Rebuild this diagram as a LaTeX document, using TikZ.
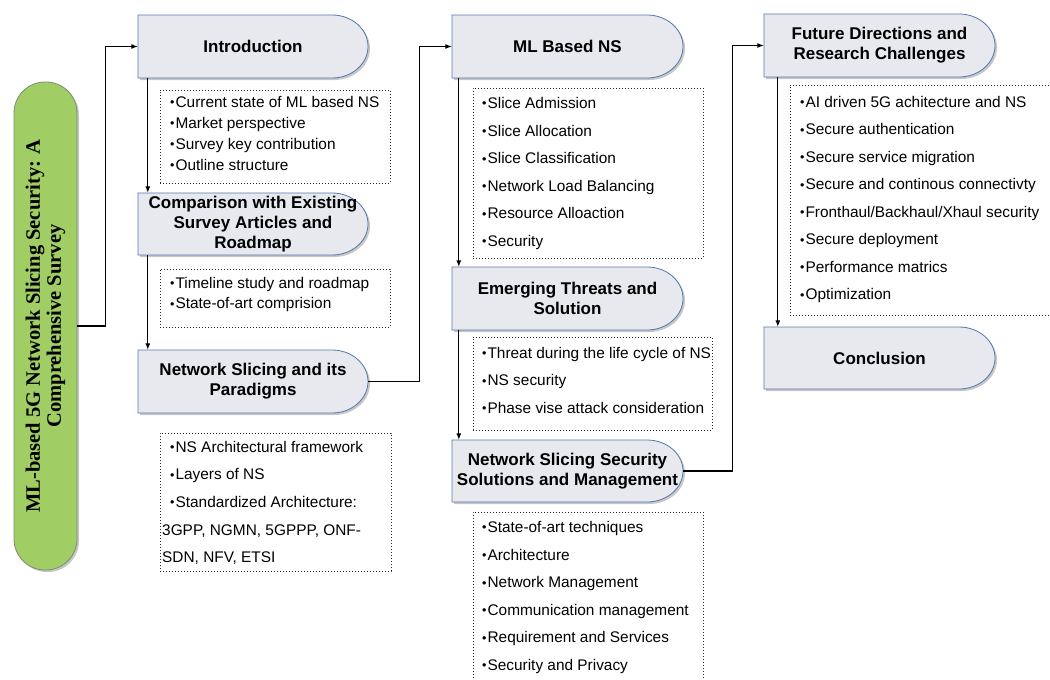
\documentclass[tikz,border=0pt]{standalone}
\usepackage{fontspec}
\setmainfont{Liberation Sans}
\newfontfamily\titleserif{Liberation Serif}
\usetikzlibrary{arrows.meta}

\definecolor{boxfill}{HTML}{E7E9EF}
\definecolor{boxline}{HTML}{5479AE}
\definecolor{greenfill}{HTML}{A0CD64}
\definecolor{greenline}{HTML}{7F8C74}

\tikzset{
  sec/.style={inner sep=0pt, align=center, font=\bfseries\fontsize{17}{20}\selectfont},
  listbox/.style={draw=black!85, dash pattern=on 1pt off 2pt, line width=0.8pt, inner sep=0pt},
  item/.style={anchor=base west, inner sep=0pt, font=\fontsize{15.4}{18}\selectfont},
  conn/.style={line width=1.1pt, -{Latex[length=6.5pt,width=5pt]}},
}

\newcommand\bul{{\fontsize{12.5}{12}\selectfont\raisebox{0.6pt}{•}}\hspace{1pt}}

% section box: name, x1, y1, x2, y2, title
\newcommand\secbox[6]{%
  \fill[black!22] (#2+2,#3+2) -- (#4-34,#3+2)
    arc[start angle=-90,end angle=90,x radius=36,y radius={(#5-#3)/2}] -- (#2+2,#5+2) -- cycle;
  \draw[boxline, fill=boxfill, line width=0.8pt] (#2,#3) -- (#4-36,#3)
    arc[start angle=-90,end angle=90,x radius=36,y radius={(#5-#3)/2}] -- (#2,#5) -- cycle;
  \node[sec, minimum width={(#4-#2)*1pt}, minimum height={(#5-#3)*1pt}]
    (#1) at ({(#2+#4)/2},{(#3+#5)/2}) {#6};
}

% dotted list frame: name, x1, y1, x2, y2
\newcommand\listframe[5]{%
  \node[listbox, minimum width={(#4-#2)*1pt}, minimum height={(#5-#3)*1pt}]
    (#1) at ({(#2+#4)/2},{(#3+#5)/2}) {};
}

% bulleted items: prefix, x, first centre line, spacing, items
\newcommand\itemlist[5]{%
  \foreach \t [count=\i] in {#5} {
    \node[item] (#1-\i) at (#2,{#3+(\i-1)*#4+5.4}) {\bul\t};
  }
}

\begin{document}
\begin{tikzpicture}[x=1pt,y=-1pt]
\useasboundingbox (0,0) rectangle (1050,680);
\clip (0,0) rectangle (1050,680);

% title bar on the left
\node[fill=black!22, rounded corners=31pt, minimum width=63pt, minimum height=488pt, inner sep=0pt]
  (greenshadow) at (47.5,328) {};
\node[draw=greenline, fill=greenfill, line width=0.8pt, rounded corners=31pt,
  minimum width=63pt, minimum height=488pt, inner sep=0pt] (green) at (45.5,326) {};
\node[rotate=90, align=center, inner sep=0pt,
  font=\titleserif\bfseries\fontsize{20.5}{21}\selectfont] (greentext) at (45.5,326)
  {ML-based 5G Network Slicing Security: A\\Comprehensive Survey};

% first column
\secbox{intro}{138}{15}{368}{78}{Introduction}
\secbox{comp}{138}{193}{368}{255}{Comparison with Existing\\Survey Articles and\\Roadmap}
\secbox{nsp}{138}{350}{368}{413}{Network Slicing and its\\Paradigms}

\listframe{introlist}{160}{90}{390}{183}
\itemlist{intro}{170}{102}{21}{Current state of ML based NS, Market perspective, Survey key contribution, Outline structure}

\listframe{complist}{160}{269}{390}{327}
\itemlist{comp}{170}{283}{20.5}{Timeline study and roadmap, State-of-art comprision}

\listframe{nsplist}{160}{433}{391}{571}
\itemlist{nsp}{170}{447}{27.5}{NS Architectural framework, Layers of NS, Standardized Architecture:}
\node[item] (nsp-4) at (162,{530+5.4}) {3GPP, NGMN, 5GPPP, ONF-};
\node[item] (nsp-5) at (162,{557+5.4}) {SDN, NFV, ETSI};

% second column
\secbox{ml}{452}{15}{683}{78}{ML Based NS}
\secbox{emg}{452}{267}{683}{330}{Emerging Threats and\\Solution}
\secbox{nss}{452}{440}{683}{502}{Network Slicing Security\\Solutions and Management}

\listframe{mllist}{473}{88}{703}{258}
\itemlist{ml}{482}{103}{27.6}{Slice Admission, Slice Allocation, Slice Classification, Network Load Balancing, Resource Alloaction, Security}

\listframe{emglist}{473}{337}{712}{430}
\itemlist{emg}{482}{353}{27.5}{Threat during the life cycle of NS, NS security, Phase vise attack consideration}

\listframe{nsslist}{473}{512}{703}{700}
\itemlist{nss}{482}{527}{27.6}{State-of-art techniques, Architecture, Network Management, Communication management, Requirement and Services, Security and Privacy}

% third column
\secbox{fut}{764}{14}{995}{77}{Future Directions and\\Research Challenges}
\secbox{conc}{764}{327}{995}{389}{Conclusion}

\listframe{futlist}{790}{85}{1070}{315}
\itemlist{fut}{800}{102}{27.5}{AI driven 5G achitecture and NS, Secure authentication, Secure service migration, Secure and continous connectivty, Fronthaul/Backhaul/Xhaul security, Secure deployment, Performance matrics, Optimization}

% connectors
\draw[conn] (green.east) -- ++(28,0) |- (intro.west);
\draw[conn] ([xshift=10pt]intro.south west) -- ([xshift=10pt]comp.north west);
\draw[conn] ([xshift=10pt]comp.south west) -- ([xshift=10pt]nsp.north west);
\draw[conn] (nsp.east) -- ++(51,0) |- (ml.west);
\draw[conn] ([xshift=7pt]ml.south west) -- ([xshift=7pt]emg.north west);
\draw[conn] ([xshift=7pt]emg.south west) -- ([xshift=7pt]nss.north west);
\draw[conn] (nss.east) -- ++(49,0) |- (fut.west);
\draw[conn] ([xshift=14pt]fut.south west) -- ([xshift=14pt]conc.north west);
\end{tikzpicture}
\end{document}
